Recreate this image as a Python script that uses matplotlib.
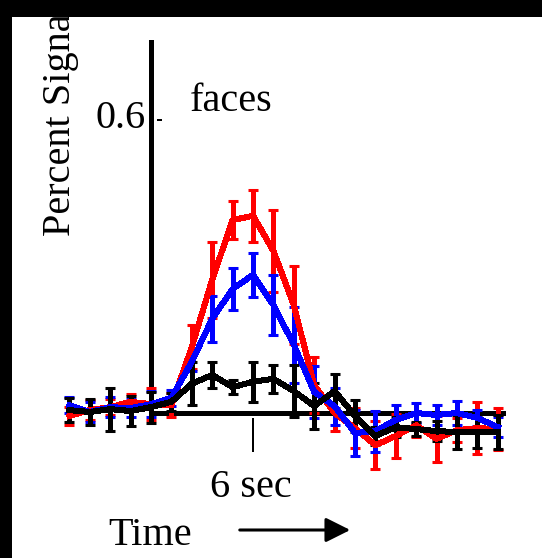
import matplotlib
matplotlib.use("Agg")
import matplotlib.pyplot as plt
from matplotlib.patches import Rectangle, FancyArrowPatch
import numpy as np

# Time points (s), one sample every 1.2 s relative to stimulus onset
time_s = [-4.8, -3.6, -2.4, -1.2, 0.0, 1.2, 2.4, 3.6, 4.8, 6.0, 7.2,
          8.4, 9.6, 10.8, 12.0, 13.2, 14.4, 15.6, 16.8, 18.0, 19.2, 20.4]

# Percent signal change per condition
red_mean = [-0.006, 0.006, 0.012, 0.023, 0.018, 0.016, 0.135, 0.273, 0.395, 0.404, 0.332,
            0.221, 0.057, 0.000, -0.031, -0.066, -0.047, -0.025, -0.053, -0.035, -0.031, -0.033]
red_err = [0.018, 0.020, 0.016, 0.016, 0.033, 0.025, 0.045, 0.078, 0.039, 0.053, 0.084,
           0.080, 0.057, 0.037, 0.041, 0.049, 0.045, 0.025, 0.047, 0.025, 0.053, 0.043]

blue_mean = [0.016, 0.002, 0.012, 0.010, 0.018, 0.031, 0.105, 0.193, 0.254, 0.283, 0.221,
             0.140, 0.043, 0.014, -0.041, -0.037, -0.014, 0.000, -0.004, 0.000, -0.010, -0.029]
blue_err = [0.016, 0.020, 0.020, 0.018, 0.027, 0.016, 0.020, 0.047, 0.043, 0.045, 0.061,
            0.078, 0.053, 0.038, 0.047, 0.042, 0.031, 0.020, 0.020, 0.025, 0.016, 0.020]

black_mean = [0.006, 0.002, 0.008, 0.004, 0.012, 0.023, 0.060, 0.078, 0.053, 0.064, 0.070,
              0.045, 0.014, 0.045, -0.006, -0.047, -0.029, -0.033, -0.037, -0.039, -0.039, -0.039]
black_err = [0.024, 0.027, 0.044, 0.030, 0.032, 0.018, 0.044, 0.027, 0.014, 0.041, 0.029,
             0.053, 0.047, 0.035, 0.033, 0.018, 0.020, 0.015, 0.020, 0.035, 0.033, 0.035]

series = [(red_mean, red_err, "#ff0000"),
          (blue_mean, blue_err, "#0000ff"),
          (black_mean, black_err, "#000000")]

W, H = 542, 558
DPI = 100
fig = plt.figure(figsize=(W / DPI, H / DPI), dpi=DPI)
fig.patch.set_facecolor("white")

SERIF = ["Liberation Serif", "DejaVu Serif"]
FS = 29


def fx(px):
    return px / W


def fy(py):
    return 1 - py / H


# Axes placed so that onset sits at x=151 px, zero signal at y=413 px
px_per_s = 17.0
px_per_unit = 488.3
L, R, T, B = 40, 530, 30, 500
ax = fig.add_axes([fx(L), fy(B), (R - L) / W, (B - T) / H])
ax.set_xlim((L - 151) / px_per_s, (R - 151) / px_per_s)
ax.set_ylim((413 - B) / px_per_unit, (413 - T) / px_per_unit)
ax.axis("off")

# Hand-drawn style axes
ax.plot([0, 0], [0, (413 - 40) / px_per_unit], color="black", lw=2.3,
        solid_capstyle="butt", antialiased=False)
ax.plot([0, (505 - 151) / px_per_s], [0, 0], color="black", lw=2.3,
        solid_capstyle="butt", antialiased=False)
ax.plot([0.35, 0.65], [0.6, 0.6], color="black", lw=1.4,
        solid_capstyle="butt", antialiased=False)
ax.plot([6.0, 6.0], [-5 / px_per_unit, -39 / px_per_unit], color="black", lw=1.4,
        solid_capstyle="butt", antialiased=False)

for mean, err, col in series:
    cont = ax.errorbar(time_s, mean, yerr=err, color=col, lw=3.6,
                       elinewidth=2.2, capsize=3.6, capthick=2.2, zorder=3)
    line, caps, bars = cont.lines
    line.set_antialiased(False)
    for c in caps:
        c.set_antialiased(False)
    for b in bars:
        b.set_antialiased(False)

# Labels
fig.text(fx(146), fy(128), "0.6", fontsize=FS, family=SERIF, ha="right", va="baseline")
fig.text(fx(190), fy(111), "faces", fontsize=FS, family=SERIF, ha="left", va="baseline")
fig.text(fx(251), fy(497), "6 sec", fontsize=FS, family=SERIF, ha="center", va="baseline")
fig.text(fx(108), fy(545), "Time", fontsize=FS, family=SERIF, ha="left", va="baseline")
fig.text(fx(70), fy(236), "Percent Signal Change", fontsize=FS, family=SERIF,
         rotation=90, rotation_mode="anchor", ha="left", va="baseline")

arrow = FancyArrowPatch((237, H - 530), (353, H - 530), transform=None,
                        arrowstyle="-|>,head_length=10,head_width=5",
                        color="black", lw=2.2, mutation_scale=1.5)
fig.add_artist(arrow)

# Dark frame along the top and left edges
fig.add_artist(Rectangle((0, fy(17)), 1, 1 - fy(17), transform=fig.transFigure,
                         facecolor="black", edgecolor="none", zorder=20))
fig.add_artist(Rectangle((0, 0), fx(12), 1, transform=fig.transFigure,
                         facecolor="black", edgecolor="none", zorder=20))

fig.savefig("out.png", dpi=DPI, facecolor=fig.get_facecolor())
